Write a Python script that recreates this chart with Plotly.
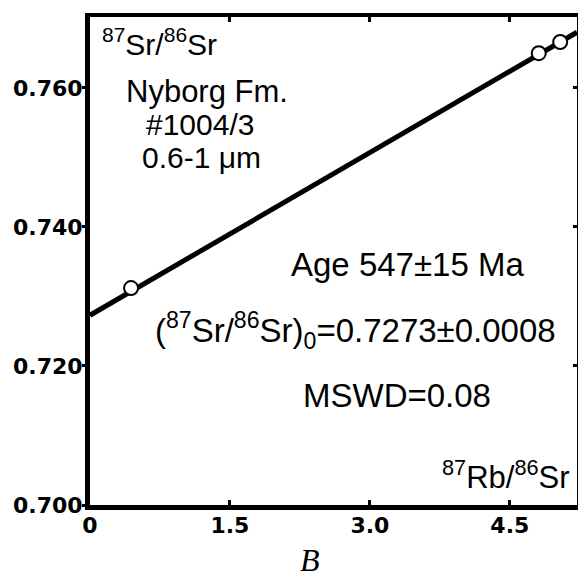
import numpy as np
import plotly.graph_objects as go

# ---- data ----
rb_sr = [0.44, 4.81, 5.04]          # 87Rb/86Sr
sr_sr = [0.7312, 0.7650, 0.7666]    # 87Sr/86Sr
intercept = 0.7273                  # (87Sr/86Sr)0
age_ma = 547                        # isochron age, Ma
lambda_rb = 1.42e-11                # decay constant, 1/yr
x_ticks = [0, 1.5, 3.0, 4.5]
x_ticktext = ["0", "1.5", "3.0", "4.5"]
y_ticks = [0.700, 0.720, 0.740, 0.760]
y_ticktext = ["0.700", "0.720", "0.740", "0.760"]
x_range = [0, 5.22]
y_range = [0.700, 0.7702]

slope = np.exp(lambda_rb * age_ma * 1e6) - 1
line_x = np.array(x_range)
line_y = intercept + slope * line_x

# ---- figure ----
L, R, T, B = 90, 1, 17, 79
W, H = 578, 584
pw, ph = W - L - R, H - T - B

def px(x):
    return (x - L) / pw

def py(y):
    return (H - B - y) / ph

fig = go.Figure()
fig.add_trace(go.Scatter(x=line_x, y=line_y, mode="lines",
                         line=dict(color="black", width=5),
                         showlegend=False, hoverinfo="skip"))
fig.add_trace(go.Scatter(x=rb_sr, y=sr_sr, mode="markers",
                         marker=dict(symbol="circle", size=14, color="white",
                                     line=dict(color="black", width=2)),
                         showlegend=False))
fig.add_trace(go.Scatter(x=[], y=[], xaxis="x2", yaxis="y2", showlegend=False))

tickfont = dict(family="DejaVu Sans", size=22, color="black", weight="bold")
fig.update_layout(
    width=W, height=H,
    margin=dict(l=L, r=R, t=T, b=B),
    paper_bgcolor="white", plot_bgcolor="white",
    xaxis=dict(range=x_range, tickvals=x_ticks, ticktext=x_ticktext,
               showline=True, linewidth=5, linecolor="black",
               ticks="inside", ticklen=5, tickwidth=3, tickcolor="black",
               ticklabelstandoff=-3,
               showgrid=False, zeroline=False, tickfont=tickfont),
    yaxis=dict(range=y_range, tickvals=y_ticks, ticktext=y_ticktext,
               showline=True, linewidth=5, linecolor="black",
               ticks="outside", ticklen=3, tickwidth=3, tickcolor="black",
               ticklabelstandoff=-5,
               showgrid=False, zeroline=False, tickfont=tickfont),
    xaxis2=dict(range=x_range, overlaying="x", side="top",
                tickvals=x_ticks[1:], showticklabels=False,
                showline=True, linewidth=4, linecolor="black",
                ticks="inside", ticklen=5, tickwidth=3, tickcolor="black",
                showgrid=False, zeroline=False),
    yaxis2=dict(range=y_range, overlaying="y", side="right",
                tickvals=y_ticks[1:], showticklabels=False,
                showline=True, linewidth=2, linecolor="black",
                ticks="inside", ticklen=4, tickwidth=3, tickcolor="black",
                showgrid=False, zeroline=False),
)

ann = [
    ("<sup>87</sup>Sr/<sup>86</sup>Sr", 159, 42, 30),
    ("Nyborg Fm.", 207, 92, 31),
    ("#1004/3", 200, 124, 30),
    ("0.6-1 μm", 201, 158, 30),
    ("Age 547±15 Ma", 407, 264, 33),
    ("(<sup>87</sup>Sr/<sup>86</sup>Sr)<sub>0</sub>=0.7273±0.0008", 355, 330, 33),
    ("MSWD=0.08", 397, 395, 33),
    ("<sup>87</sup>Rb/<sup>86</sup>Sr", 506, 475, 31),
]
for text, x, y, s in ann:
    fig.add_annotation(text=text, x=px(x), y=py(y), xref="paper", yref="paper",
                       xanchor="center", yanchor="middle", showarrow=False,
                       font=dict(family="Liberation Sans", size=s, color="black"))
fig.add_annotation(text="<i>B</i>", x=px(310), y=py(560), xref="paper", yref="paper",
                   xanchor="center", yanchor="middle", showarrow=False,
                   font=dict(family="Liberation Serif", size=32, color="black"))

fig.write_html("out.html")
